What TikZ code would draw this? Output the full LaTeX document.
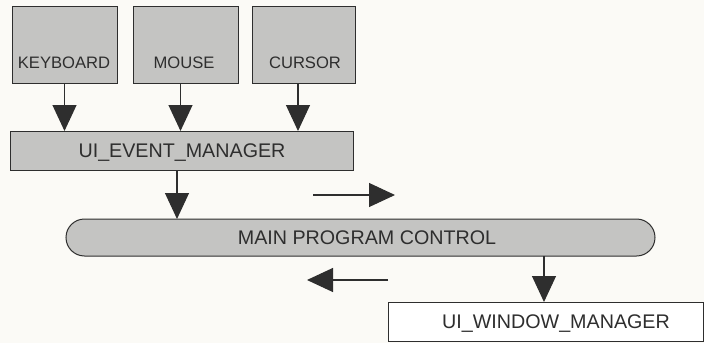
\documentclass[tikz,border=0pt]{standalone}
\usepackage{fontspec}
\setmainfont{Liberation Sans}
\usetikzlibrary{arrows.meta}
\definecolor{paper}{HTML}{FBFAF6}
\definecolor{boxfill}{HTML}{C4C4C2}
\definecolor{ink}{HTML}{2E2E2E}
\tikzset{
  box/.style={draw=ink, line width=1pt, fill=boxfill, inner sep=0pt, outer sep=0pt},
  whitebox/.style={draw=ink, line width=1pt, fill=white, inner sep=0pt, outer sep=0pt},
  small/.style={text=ink, font=\fontsize{16.6}{18}\selectfont, inner sep=0pt},
  big/.style={text=ink, font=\fontsize{19.7}{22}\selectfont, inner sep=0pt},
  arr/.style={draw=ink, line width=1.1pt, -{Triangle[length=26pt,width=24pt]}}
}
\begin{document}
\begin{tikzpicture}[x=1pt, y=-1pt]
\fill[paper] (0,0) rectangle (704,343);
\useasboundingbox (0,0) rectangle (704,343);

% top boxes
\node[box, minimum width=105pt, minimum height=77pt] (kb) at (64.5,44.5) {};
\node[box, minimum width=105pt, minimum height=77pt] (ms) at (185.5,44.5) {};
\node[box, minimum width=103pt, minimum height=77pt] (cu) at (303.5,44.5) {};
\node[small] (kbt) at (64,63) {KEYBOARD};
\node[small] (mst) at (184,63) {MOUSE};
\node[small] (cut) at (305,63) {CURSOR};

% event manager
\node[box, minimum width=343pt, minimum height=39pt] (ev) at (181.5,150.5) {};
\node[big] (evt) at (182,153) {UI\_EVENT\_MANAGER};

% main program control
\node[box, minimum width=589pt, minimum height=37pt, rounded corners=18.5pt] (main) at (360.5,237.5) {};
\node[big] (maint) at (367,238) {MAIN PROGRAM CONTROL};

% window manager
\node[whitebox, minimum width=315pt, minimum height=39pt] (win) at (545.5,321.5) {};
\node[big] (wint) at (556,324) {UI\_WINDOW\_MANAGER};

% connectors
\draw[arr] (kb.south) -- (kb.south |- ev.north);
\draw[arr] ([xshift=-5pt]ms.south) -- ([xshift=-5pt]ms.south |- ev.north);
\draw[arr] ([xshift=-5.5pt]cu.south) -- ([xshift=-5.5pt]cu.south |- ev.north);
\draw[arr] ([xshift=-4.5pt]ev.south) -- ([xshift=-4.5pt]ev.south |- main.north);
\draw[arr] ([xshift=-1.5pt]win.north |- main.south) -- ([xshift=-1.5pt]win.north);

% flow arrows
\coordinate (r1) at (313,195);
\coordinate (r2) at (395,195);
\coordinate (l1) at (388,280);
\coordinate (l2) at (307,280);
\draw[arr] (r1) -- (r2);
\draw[arr] (l1) -- (l2);
\end{tikzpicture}
\end{document}
